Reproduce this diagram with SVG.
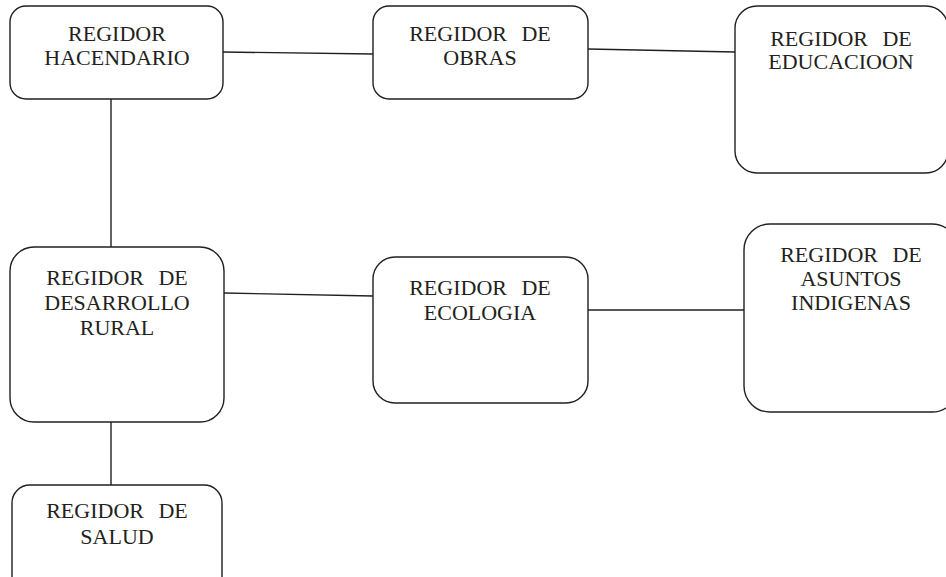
<svg xmlns="http://www.w3.org/2000/svg" width="946" height="577" viewBox="0 0 946 577">
<style>
.box{fill:#fff;stroke:#231f20;stroke-width:1.4}
.lbl{font-family:"Liberation Serif","Times New Roman",serif;font-size:22px;fill:#231f20;text-anchor:middle}
.wide{word-spacing:9px}
.conn{stroke:#231f20;stroke-width:1.4;fill:none}
</style>
<rect width="946" height="577" fill="#fff"/>
<g id="connectors">
<line class="conn" x1="223" y1="52" x2="373" y2="54"/>
<line class="conn" x1="588" y1="49" x2="735" y2="52"/>
<line class="conn" x1="111" y1="99" x2="111" y2="247"/>
<line class="conn" x1="224" y1="293" x2="373" y2="296"/>
<line class="conn" x1="588" y1="310" x2="744" y2="310"/>
<line class="conn" x1="111" y1="422" x2="111" y2="485"/>
</g>
<g id="hacendario">
<rect class="box" x="10" y="6" width="213" height="93" rx="16"/>
<text class="lbl" x="117" y="41">REGIDOR</text>
<text class="lbl" x="117" y="65">HACENDARIO</text>
</g>
<g id="obras">
<rect class="box" x="373" y="6" width="215" height="93" rx="16"/>
<text class="lbl wide" x="480" y="41">REGIDOR DE</text>
<text class="lbl" x="480" y="65">OBRAS</text>
</g>
<g id="educacion">
<rect class="box" x="735" y="6" width="213" height="167" rx="22"/>
<text class="lbl wide" x="841" y="46">REGIDOR DE</text>
<text class="lbl" x="841" y="69">EDUCACIOON</text>
</g>
<g id="desarrollo">
<rect class="box" x="10" y="247" width="214" height="175" rx="24"/>
<text class="lbl wide" x="117" y="285">REGIDOR DE</text>
<text class="lbl" x="117" y="310">DESARROLLO</text>
<text class="lbl" x="117" y="335">RURAL</text>
</g>
<g id="ecologia">
<rect class="box" x="373" y="257" width="215" height="146" rx="22"/>
<text class="lbl wide" x="480" y="295">REGIDOR DE</text>
<text class="lbl" x="480" y="320">ECOLOGIA</text>
</g>
<g id="indigenas">
<rect class="box" x="744" y="224" width="214" height="188" rx="26"/>
<text class="lbl wide" x="851" y="262">REGIDOR DE</text>
<text class="lbl" x="851" y="286">ASUNTOS</text>
<text class="lbl" x="851" y="310">INDIGENAS</text>
</g>
<g id="salud">
<rect class="box" x="12" y="485" width="210" height="110" rx="18"/>
<text class="lbl wide" x="117" y="518">REGIDOR DE</text>
<text class="lbl" x="117" y="544">SALUD</text>
</g>
</svg>
